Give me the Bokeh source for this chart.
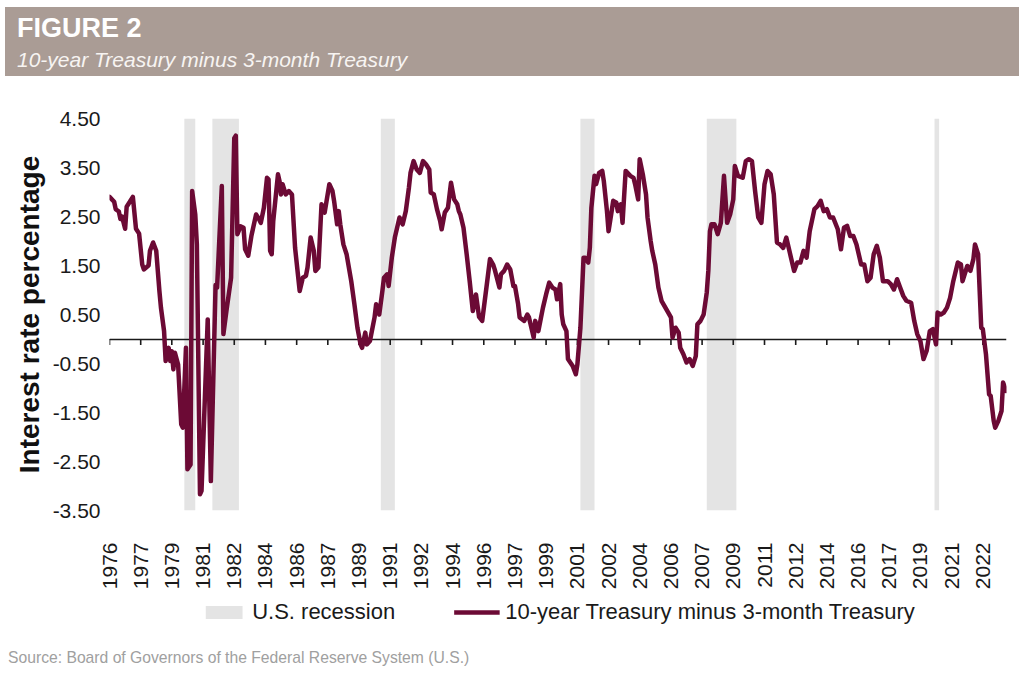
import pandas as pd
from math import pi
from bokeh.plotting import figure
from bokeh.models import (Range1d, FixedTicker, DatetimeTickFormatter, NumeralTickFormatter,
                          Legend, LegendItem, ColumnDataSource, Div)
from bokeh.layouts import column
from bokeh.embed import file_html
from bokeh.resources import INLINE

# ---------------- data ----------------
title = "FIGURE 2"
subtitle = "10-year Treasury minus 3-month Treasury"
y_title = "Interest rate percentage"
series_name = "10-year Treasury minus 3-month Treasury"
recession_name = "U.S. recession"
source_text = "Source: Board of Governors of the Federal Reserve System (U.S.)"

dates = [
    "1976-01", "1976-04", "1976-05", "1976-07", "1976-08", "1976-09", "1976-11", "1976-12",
    "1977-02", "1977-04", "1977-06", "1977-08", "1977-10", "1977-11",
    "1978-02", "1978-03", "1978-05", "1978-07", "1978-09", "1978-10", "1978-12",
    "1979-01", "1979-03", "1979-04", "1979-05", "1979-06", "1979-07", "1979-09", "1979-11", "1979-12",
    "1980-02", "1980-03", "1980-05", "1980-06", "1980-08", "1980-09", "1980-11", "1980-12",
    "1981-04", "1981-06", "1981-09", "1981-10",
    "1982-01", "1982-02", "1982-04", "1982-07", "1982-09", "1982-10", "1982-11",
    "1983-01", "1983-03", "1983-04", "1983-06", "1983-08", "1983-11",
    "1984-01", "1984-02", "1984-04", "1984-06", "1984-07", "1984-08", "1984-09", "1984-10",
    "1985-01", "1985-02", "1985-03", "1985-04", "1985-06", "1985-08", "1985-10", "1985-12",
    "1986-03", "1986-05", "1986-07", "1986-08", "1986-10", "1986-12",
    "1987-01", "1987-03", "1987-05", "1987-07", "1987-10", "1987-12",
    "1988-01", "1988-03", "1988-04", "1988-05", "1988-07", "1988-09", "1988-12",
    "1989-02", "1989-04", "1989-06", "1989-07", "1989-09", "1989-10", "1989-12",
    "1990-03", "1990-04", "1990-06", "1990-08", "1990-09", "1990-11", "1990-12",
    "1991-02", "1991-04", "1991-07", "1991-09", "1991-11",
    "1992-01", "1992-02", "1992-04", "1992-06", "1992-08", "1992-10", "1992-12",
    "1993-02", "1993-03", "1993-05", "1993-07", "1993-09", "1993-10", "1993-12",
    "1994-02", "1994-04", "1994-06", "1994-08", "1994-09", "1994-10", "1994-12",
    "1995-02", "1995-04", "1995-06", "1995-08", "1995-10", "1995-12",
    "1996-03", "1996-05", "1996-07", "1996-08", "1996-11", "1996-12",
    "1997-02", "1997-04", "1997-06", "1997-08", "1997-09", "1997-11", "1997-12",
    "1998-03", "1998-05", "1998-06", "1998-09", "1998-10", "1998-12",
    "1999-03", "1999-05", "1999-07", "1999-09", "1999-11", "1999-12",
    "2000-02", "2000-03", "2000-04", "2000-06", "2000-07", "2000-10", "2000-12",
    "2001-01", "2001-03", "2001-05", "2001-06", "2001-08", "2001-09", "2001-10", "2001-12",
    "2002-01", "2002-03", "2002-05", "2002-06", "2002-08", "2002-09", "2002-11", "2002-12",
    "2003-02", "2003-03", "2003-05", "2003-06", "2003-08", "2003-11",
    "2004-01", "2004-02", "2004-04", "2004-05", "2004-07", "2004-09", "2004-10", "2004-12",
    "2005-01", "2005-03", "2005-05", "2005-07", "2005-10",
    "2006-01", "2006-02", "2006-04", "2006-06", "2006-07", "2006-09", "2006-11",
    "2007-01", "2007-03", "2007-05", "2007-06", "2007-08", "2007-10", "2007-12",
    "2008-01", "2008-02", "2008-03", "2008-05", "2008-07", "2008-09", "2008-11",
    "2009-01", "2009-03", "2009-05", "2009-06", "2009-08", "2009-11",
    "2010-01", "2010-03", "2010-05", "2010-07", "2010-09", "2010-11",
    "2011-01", "2011-03", "2011-05", "2011-07", "2011-09", "2011-11",
    "2012-01", "2012-03", "2012-06", "2012-08", "2012-10", "2012-12",
    "2013-02", "2013-04", "2013-06", "2013-09", "2013-11",
    "2014-01", "2014-03", "2014-05", "2014-07", "2014-09", "2014-12",
    "2015-02", "2015-04", "2015-06", "2015-08", "2015-10", "2015-12",
    "2016-03", "2016-05", "2016-07", "2016-09", "2016-11",
    "2017-01", "2017-03", "2017-05", "2017-08", "2017-10", "2017-12",
    "2018-02", "2018-04", "2018-06", "2018-08", "2018-11",
    "2019-01", "2019-03", "2019-05", "2019-07", "2019-09", "2019-11",
    "2020-01", "2020-03", "2020-04", "2020-06", "2020-08", "2020-10", "2020-12",
    "2021-02", "2021-05", "2021-07", "2021-08", "2021-11",
    "2022-01", "2022-03", "2022-04", "2022-06", "2022-08", "2022-09", "2022-11",
    "2023-01", "2023-02", "2023-04", "2023-05", "2023-07", "2023-09", "2023-10", "2023-12",
]

spread = [
    2.90, 2.80, 2.65, 2.60, 2.45, 2.50, 2.25, 2.70,
    2.80, 2.90, 2.25, 2.15, 1.52, 1.42,
    1.50, 1.80, 1.97, 1.80, 0.98, 0.64, 0.16,
    -0.45, -0.18, -0.45, -0.25, -0.62, -0.28, -0.52, -1.74, -1.81,
    -0.18, -2.66, -2.56, 3.02, 2.54, 1.93, -3.17, -3.10,
    0.40, -2.90, 1.10, 1.05,
    3.12, 0.10, 0.57, 1.25, 4.10, 4.15, 2.14,
    2.30, 2.27, 1.83, 1.70, 2.10, 2.54,
    2.44, 2.37, 2.68, 3.29, 3.26, 1.80, 1.73, 2.41,
    3.36, 3.22, 2.95, 3.16, 2.95, 3.02, 2.95, 1.86,
    0.98, 1.25, 1.29, 1.46, 2.07, 1.80,
    1.39, 1.46, 2.75, 2.58, 3.16, 3.02,
    2.82, 2.34, 2.61, 2.34, 1.93, 1.73, 1.18,
    0.71, 0.23, -0.11, -0.18, 0.13, -0.11, -0.04,
    0.44, 0.71, 0.50, 0.98, 1.25, 1.32, 1.08,
    1.66, 2.07, 2.48, 2.34, 2.61,
    3.09, 3.39, 3.63, 3.46, 3.39, 3.63, 3.56,
    3.46, 2.99, 2.95, 2.65, 2.41, 2.24, 2.58,
    2.68, 3.19, 2.85, 2.75, 2.61, 2.54, 2.27,
    1.73, 1.18, 0.57, 0.91, 0.45, 0.37,
    1.12, 1.63, 1.52, 1.42, 1.05, 1.32,
    1.39, 1.52, 1.42, 1.08, 1.08, 0.71, 0.44,
    0.37, 0.50, 0.44, 0.03, 0.37, 0.16,
    0.64, 0.91, 1.15, 1.05, 1.01, 0.81,
    1.12, 0.50, 0.30, 0.16, -0.41, -0.55, -0.72,
    -0.52, 0.23, 1.66, 1.66, 1.56, 1.86, 2.68, 3.33,
    3.16, 3.39, 3.43, 3.22, 2.61, 2.20, 2.61, 2.82,
    2.78, 2.61, 2.75, 2.37, 3.43, 3.33,
    3.29, 3.16, 2.85, 3.67, 3.36, 2.95, 2.48, 2.00,
    1.80, 1.52, 1.05, 0.78, 0.61,
    0.44, 0.03, 0.23, 0.13, -0.18, -0.31, -0.48,
    -0.41, -0.55, -0.35, 0.30, 0.37, 0.50, 0.95,
    1.40, 2.20, 2.34, 2.34, 2.14, 2.37, 3.33,
    2.37, 2.54, 2.85, 3.53, 3.33, 3.29,
    3.63, 3.67, 3.63, 3.02, 2.48, 2.37,
    3.16, 3.43, 3.36, 2.95, 1.97, 1.93,
    1.86, 2.07, 1.66, 1.39, 1.56, 1.56,
    1.80, 1.66, 2.20, 2.65, 2.71,
    2.82, 2.61, 2.65, 2.48, 2.48, 2.24,
    1.83, 2.27, 2.31, 2.10, 2.10, 1.93,
    1.52, 1.52, 1.18, 1.25, 1.73,
    1.90, 1.66, 1.18, 1.18, 1.12, 1.01,
    1.22, 1.05, 0.88, 0.78, 0.74,
    0.37, 0.10, -0.04, -0.41, -0.24, 0.16,
    0.20, -0.11, 0.54, 0.50, 0.54, 0.64, 0.84,
    1.18, 1.56, 1.52, 1.18, 1.49,
    1.39, 1.63, 1.93, 1.73, 0.23, 0.20, -0.31,
    -1.13, -1.16, -1.67, -1.81, -1.67, -1.47, -0.89, -1.06,
]

recession_start = ["1980-01", "1981-07", "1990-07", "2001-03", "2007-12", "2020-02"]
recession_last = ["1980-07", "1982-11", "1991-03", "2001-11", "2009-06", "2020-04"]

y_ticks = [-3.5, -2.5, -1.5, -0.5, 0.5, 1.5, 2.5, 3.5, 4.5]
x_tick_start = "1976-01-01"
x_tick_count = 29
x_tick_step = "20MS"
x_end = "2023-12-07"

# ---------------- styles ----------------
FONT = "Liberation Sans"
BAND = "#aa9c95"
MAROON = "#6c0a35"
SHADE = "#e4e4e4"
INK = "#1a1a1a"

W = 1024
HEAD_H, MAIN_H, LEG_H, FOOT_H = 80, 512, 40, 42
BL, BR, BT, BB = 109, 18, 38, 82
TICK_PX = 6

# ---------------- header (HTML band) ----------------
header = Div(width=W, height=HEAD_H, margin=0, text=(
    f'<div style="margin:7px 0 0 5px; width:1014px; height:69px; background:{BAND}; '
    f'box-sizing:border-box; padding:8px 0 0 12px; font-family:\'{FONT}\'; color:#ffffff;">'
    f'<div style="font-weight:bold; font-size:27px; line-height:27px; white-space:nowrap;">{title}</div>'
    f'<div style="font-style:italic; font-size:21px; line-height:21px; margin-top:7px; '
    f'color:#f7f4f2; white-space:nowrap;">{subtitle}</div></div>'))

# ---------------- main chart ----------------
line_src = ColumnDataSource(dict(date=pd.to_datetime(dates), spread=spread))
rec_left = pd.to_datetime(recession_start)
rec_right = pd.to_datetime(recession_last) + pd.offsets.MonthBegin(1)
y0, y1 = y_ticks[0], y_ticks[-1]
rec_src = ColumnDataSource(dict(left=rec_left, right=rec_right,
                                bottom=[y0] * len(rec_left), top=[y1] * len(rec_left)))

p = figure(width=W, height=MAIN_H, x_axis_type="datetime",
           x_range=Range1d(pd.Timestamp(x_tick_start), pd.Timestamp(x_end)),
           y_range=Range1d(y0, y1),
           output_backend="svg", toolbar_location=None,
           min_border_left=BL, min_border_right=BR, min_border_top=BT, min_border_bottom=BB,
           outline_line_color=None, background_fill_color="white", border_fill_color="white")
p.grid.visible = False

r_rec = p.quad(left="left", right="right", bottom="bottom", top="top", source=rec_src,
               fill_color=SHADE, line_color=None)

tick_dates = pd.date_range(x_tick_start, periods=x_tick_count, freq=x_tick_step)
tick_ms = [t.value / 1e6 for t in tick_dates]

# horizontal axis line at zero with short downward tick marks
p.hspan(y=[0], line_color=INK, line_width=1.6)
frame_h = MAIN_H - BT - BB
tick_len = TICK_PX * (y1 - y0) / frame_h
p.segment(x0=tick_dates, y0=[0] * len(tick_dates), x1=tick_dates, y1=[-tick_len] * len(tick_dates),
          line_color=INK, line_width=1.6)

r_line = p.line(x="date", y="spread", source=line_src, line_color=MAROON, line_width=4.5,
                line_join="round", line_cap="round")

# bottom axis: year labels only
xb = p.xaxis[0]
xb.ticker = FixedTicker(ticks=tick_ms)
xb.formatter = DatetimeTickFormatter(years="%Y", months="%Y", days="%Y", hours="%Y")
xb.axis_line_color = None
xb.major_tick_line_color = None
xb.minor_tick_line_color = None
xb.major_tick_out = 0
xb.major_tick_in = 0
xb.major_label_standoff = 32
xb.major_label_orientation = pi / 2
xb.major_label_text_font = FONT
xb.major_label_text_font_size = "21px"
xb.major_label_text_color = INK

ya = p.yaxis[0]
ya.ticker = FixedTicker(ticks=y_ticks)
ya.formatter = NumeralTickFormatter(format="0.00")
ya.axis_line_color = None
ya.major_tick_line_color = None
ya.minor_tick_line_color = None
ya.major_tick_out = 0
ya.major_tick_in = 0
ya.major_label_standoff = 9
ya.major_label_text_font = FONT
ya.major_label_text_font_size = "21px"
ya.major_label_text_color = INK
ya.axis_label = y_title
ya.axis_label_text_font = FONT
ya.axis_label_text_font_style = "bold"
ya.axis_label_text_font_size = "28px"
ya.axis_label_text_color = "#111111"
ya.axis_label_standoff = 5

# ---------------- legend strip (keys share the chart's data sources) ----------------
lf = figure(width=W, height=LEG_H, x_range=Range1d(0, 1), y_range=Range1d(0, 1),
            output_backend="svg", toolbar_location=None,
            min_border_left=BL, min_border_right=BR, min_border_top=0, min_border_bottom=0,
            x_axis_location=None, y_axis_location=None, outline_line_color=None)
lf.grid.visible = False
key_rec = lf.quad(left="left", right="right", bottom="bottom", top="top", source=rec_src,
                  fill_color=SHADE, line_color=None)
key_line = lf.line(x="date", y="spread", source=line_src, line_color=MAROON, line_width=4.5)
legend = Legend(items=[LegendItem(label=recession_name, renderers=[key_rec]),
                       LegendItem(label=series_name, renderers=[key_line])],
                orientation="horizontal", location="center",
                border_line_color=None, background_fill_alpha=0,
                label_text_font=FONT, label_text_font_size="22px", label_text_color=INK,
                glyph_width=46, glyph_height=16, label_standoff=6, spacing=58,
                padding=4, margin=0)
lf.add_layout(legend, "center")

# ---------------- footer ----------------
footer = Div(width=W, height=FOOT_H, margin=0, text=(
    f'<div style="padding:18px 0 0 8px; font-family:\'{FONT}\'; font-size:15.7px; line-height:16px; '
    f'color:#a0a0a0; white-space:nowrap;">{source_text}</div>'))

layout = column(header, p, lf, footer, spacing=0)
open("out.html", "w").write(file_html(layout, INLINE))
